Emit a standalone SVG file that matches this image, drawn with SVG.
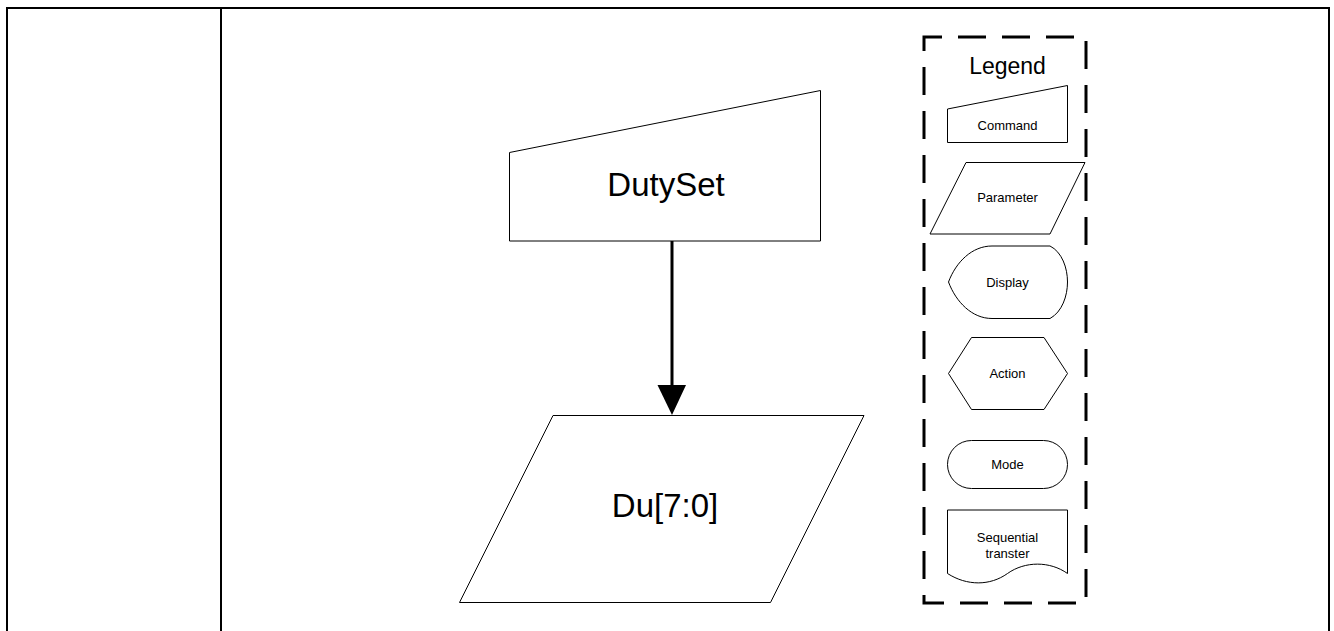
<svg xmlns="http://www.w3.org/2000/svg" width="1334" height="631" viewBox="0 0 1334 631">
<style>
.frame{fill:none;stroke:#000;stroke-width:2}
.shape{fill:#fff;stroke:#000;stroke-width:1}
.big{font-family:"Liberation Sans",Arial,sans-serif;font-size:33px;fill:#000;text-anchor:middle}
.lg{font-family:"Liberation Sans",Arial,sans-serif;font-size:13px;fill:#000;text-anchor:middle}
.title{font-family:"Liberation Sans",Arial,sans-serif;font-size:23px;fill:#000;text-anchor:middle}
.conn{fill:none;stroke:#000;stroke-width:3}
</style>
<defs>
<marker id="head" markerUnits="userSpaceOnUse" markerWidth="30" markerHeight="30" viewBox="0 0 30 30" refX="15" refY="15" orient="0">
<path d="M0.5,0 L29,0 L15,30 Z" fill="#000"/>
</marker>
</defs>
<rect width="1334" height="631" fill="#fff"/>
<g id="frame">
<path class="frame" d="M7,631 L7,8 L1329,8 L1329,631 M221,8 L221,631"/>
</g>
<g id="connectors">
<line class="conn" x1="672" y1="241" x2="672" y2="400" marker-end="url(#head)"/>
</g>
<g id="node-dutyset">
<path class="shape" d="M509.5,152.5 L820.5,90.5 L820.5,241 L509.5,241 Z"/>
<text class="big" x="666" y="196">DutySet</text>
</g>
<g id="node-du">
<path class="shape" d="M553,415.5 L864,415.5 L770.5,602.5 L459.5,602.5 Z"/>
<text class="big" x="665" y="517">Du[7:0]</text>
</g>
<g id="legend">
<rect x="924" y="37" width="162" height="566" fill="none" stroke="#000" stroke-width="3" stroke-dasharray="28,16" stroke-dashoffset="10"/>
<text class="title" x="1007.5" y="74">Legend</text>
<g id="legend-command">
<path class="shape" d="M947.5,109 L1067.5,85.5 L1067.5,142.5 L947.5,142.5 Z"/>
<text class="lg" x="1007.5" y="129.5">Command</text>
</g>
<g id="legend-parameter">
<path class="shape" d="M966,162.5 L1085,162.5 L1050,234 L930,234 Z"/>
<text class="lg" x="1007.5" y="202">Parameter</text>
</g>
<g id="legend-display">
<path class="shape" d="M948.5,282 C956,262 972,246 992,246 L1050,246 C1062,252 1067.5,268 1067.5,282 C1067.5,296 1062,312 1050,318.5 L992,318.5 C972,318.5 956,302 948.5,282 Z"/>
<text class="lg" x="1007.5" y="286.5">Display</text>
</g>
<g id="legend-action">
<path class="shape" d="M948.5,373.5 L971.5,337.5 L1044,337.5 L1067.5,373.5 L1044,409.5 L971.5,409.5 Z"/>
<text class="lg" x="1007.5" y="377.5">Action</text>
</g>
<g id="legend-mode">
<rect class="shape" x="947.5" y="440.5" width="120" height="48" rx="24" ry="24"/>
<text class="lg" x="1007.5" y="468.5">Mode</text>
</g>
<g id="legend-sequential">
<path class="shape" d="M947.5,510 L1067.5,510 L1067.5,573.5 C1050,561 1025,561 1007.5,573.5 C990,586 967,586 947.5,573.5 Z"/>
<text class="lg" x="1007.5" y="542">Sequential</text>
<text class="lg" x="1007.5" y="558">transter</text>
</g>
</g>
</svg>
